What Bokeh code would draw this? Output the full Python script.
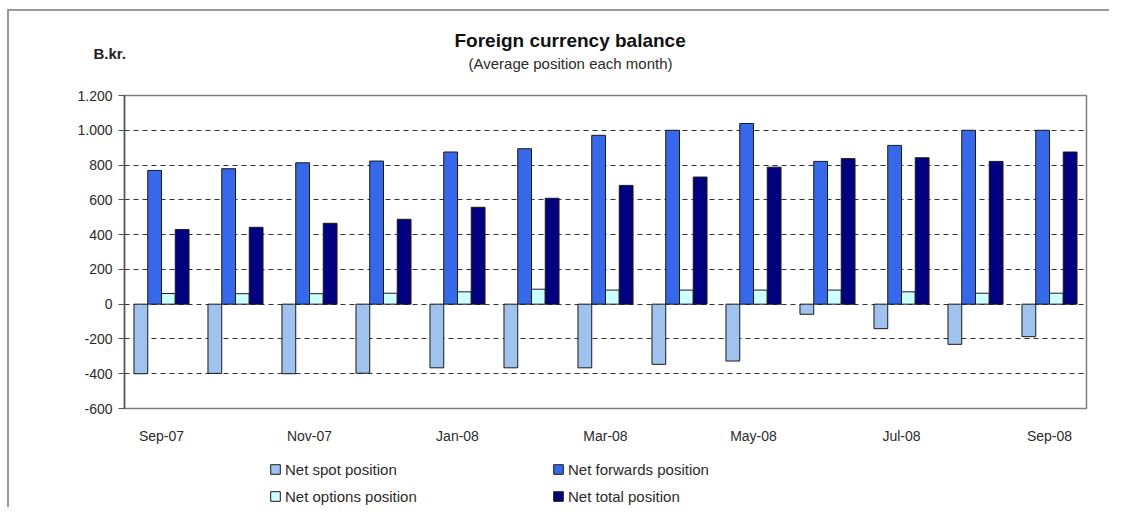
from bokeh.plotting import figure
from bokeh.layouts import column
from bokeh.models import (ColumnDataSource, Range1d, FixedTicker, CustomJSTickFormatter,
                          Title, Legend, LegendItem)
from bokeh.transform import dodge
from bokeh.embed import file_html
from bokeh.resources import INLINE

months = ["Sep-07", "Oct-07", "Nov-07", "Dec-07", "Jan-08", "Feb-08", "Mar-08",
          "Apr-08", "May-08", "Jun-08", "Jul-08", "Aug-08", "Sep-08"]
net_spot = [-400, -398, -400, -397, -366, -366, -366, -346, -327, -58, -141, -231, -187]
net_forwards = [769, 779, 813, 823, 875, 894, 971, 1000, 1039, 821, 913, 1000, 1000]
net_options = [61, 60, 60, 63, 71, 86, 81, 81, 81, 81, 71, 63, 63]
net_total = [429, 442, 465, 488, 557, 609, 683, 731, 788, 837, 842, 821, 875]
y_ticks = [-600, -400, -200, 0, 200, 400, 600, 800, 1000, 1200]
x_tick_idx = [0, 2, 4, 6, 8, 10, 12]
series_labels = ["Net spot position", "Net forwards position",
                 "Net options position", "Net total position"]
series_colors = ["#9dc3ee", "#3568ea", "#ccffff", "#000080"]

FONT = "Liberation Sans"
TXT = "#2b2b2b"
BORDER = "2px solid #9a9a9a"

src = ColumnDataSource(dict(x=list(range(len(months))), spot=net_spot, fwd=net_forwards,
                            opt=net_options, tot=net_total))
cols = ["spot", "fwd", "opt", "tot"]

p = figure(width=1100, height=434, output_backend="svg", toolbar_location=None,
           x_range=Range1d(-0.5, len(months) - 0.5), y_range=Range1d(-600, 1200),
           min_border_left=115, min_border_right=25, min_border_top=84, min_border_bottom=39,
           frame_width=960, frame_height=311)
p.styles = {"border-top": BORDER, "border-left": BORDER,
            "margin-left": "7px", "margin-top": "9px"}

w = 0.186
for i, (c, col) in enumerate(zip(cols, series_colors)):
    p.vbar(x=dodge("x", (i - 1.5) * w, range=p.x_range), top=c, width=w, source=src,
           fill_color=col, line_color="#1a1a1a", line_width=1)

# grid
p.xgrid.visible = False
p.ygrid.ticker = FixedTicker(ticks=y_ticks)
p.ygrid.grid_line_color = "#333333"
p.ygrid.grid_line_dash = "5 4"
p.ygrid.grid_line_width = 1
p.outline_line_color = "#7f7f7f"
p.outline_line_width = 1.5

# y axis
p.yaxis.ticker = FixedTicker(ticks=y_ticks)
p.yaxis.formatter = CustomJSTickFormatter(
    code="return String(tick).replace(/\\B(?=(\\d{3})+(?!\\d))/g, '.');")
p.yaxis.axis_line_color = "#555555"
p.yaxis.axis_line_width = 1.5
p.yaxis.major_tick_line_color = "#555555"
p.yaxis.major_tick_out = 6
p.yaxis.major_tick_in = 0
p.yaxis.minor_tick_line_color = None
p.yaxis.major_label_text_font = FONT
p.yaxis.major_label_text_font_size = "14px"
p.yaxis.major_label_text_color = TXT
p.yaxis.major_label_standoff = 6

# x axis
p.xaxis.ticker = FixedTicker(ticks=x_tick_idx)
p.xaxis.formatter = CustomJSTickFormatter(args=dict(months=months),
                                          code="return months[Math.round(tick)];")
p.xaxis.axis_line_color = None
p.xaxis.major_tick_line_color = None
p.xaxis.minor_tick_line_color = None
p.xaxis.major_label_text_font = FONT
p.xaxis.major_label_text_font_size = "14px"
p.xaxis.major_label_text_color = TXT
p.xaxis.major_label_standoff = 13

# titles (first added sits nearest the frame)
p.add_layout(Title(text=" ", text_font=FONT, text_font_size="10px", standoff=11), "above")
p.add_layout(Title(text="(Average position each month)", text_font=FONT,
                   text_font_size="15px", text_font_style="normal", text_color=TXT,
                   align="left", offset=344, standoff=0), "above")
p.add_layout(Title(text="B.kr.", text_font=FONT, text_font_size="15px",
                   text_font_style="bold", text_color="#222222",
                   align="left", offset=-31, standoff=-19), "above")
p.add_layout(Title(text="Foreign currency balance", text_font=FONT, text_font_size="19px",
                   text_font_style="bold", text_color="#111111",
                   align="left", offset=330, standoff=3), "above")

# legend strip (its own small figure so the legend is not clipped);
# its bars lie outside its y range, so only the legend shows
lf = figure(width=1100, height=62, output_backend="svg", toolbar_location=None,
            x_axis_type=None, y_axis_type=None, x_range=Range1d(0, 1),
            y_range=Range1d(5000, 5001), min_border=0)
lf.styles = {"border-left": BORDER, "margin-left": "7px"}
lf.outline_line_color = None
lf.xgrid.visible = False
lf.ygrid.visible = False
items = {}
for lab, c, col in zip(series_labels, cols, series_colors):
    r = lf.quad(left="x", right="x", bottom=0, top=c, source=src, fill_color=col,
                line_color="#1a1a1a", line_width=1)
    items[lab] = LegendItem(label=lab, renderers=[r], index=0)
order = ["Net spot position", "Net options position", "Net forwards position",
         "Net total position"]
legend = Legend(items=[items[k] for k in order],
                nrows=2, location=(145, 2), padding=0, margin=0, spacing=9,
                glyph_width=12, glyph_height=12, label_standoff=4, label_width=258,
                label_height=18, label_text_font=FONT, label_text_font_size="15px",
                label_text_color=TXT, border_line_color=None, background_fill_alpha=0)
lf.add_layout(legend, "center")

open("out.html", "w").write(file_html(column(p, lf, spacing=0), INLINE))
